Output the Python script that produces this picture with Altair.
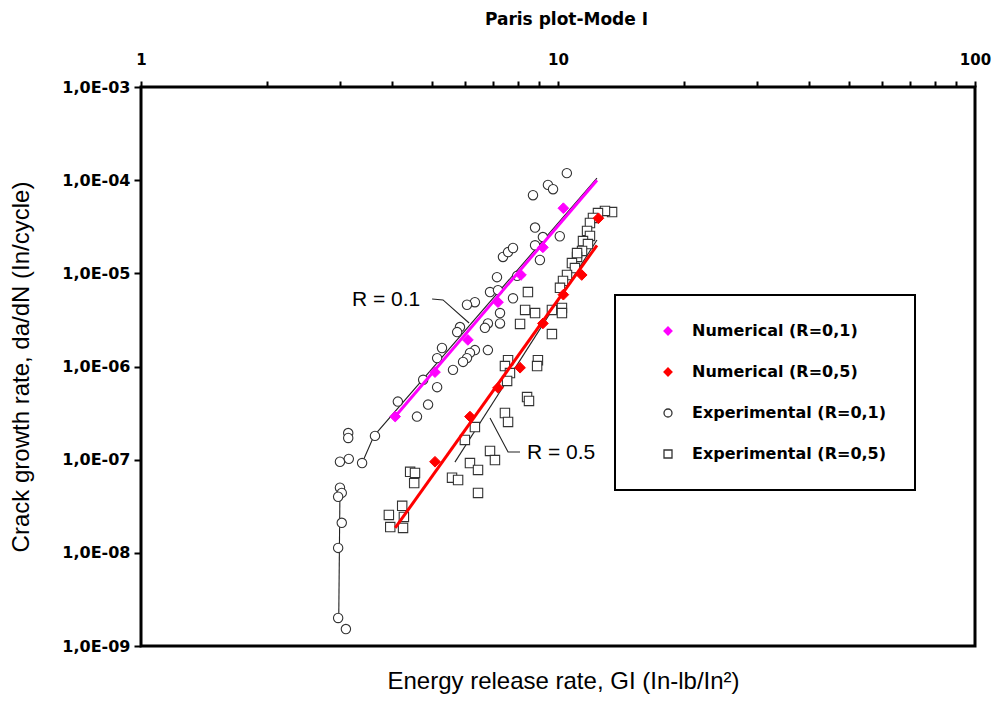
import altair as alt
import pandas as pd

# ---------------- data ----------------
SERIES = ["Numerical (R=0,1)", "Numerical (R=0,5)",
          "Experimental (R=0,1)", "Experimental (R=0,5)"]

# numerical results (energy release rate G, crack growth rate da/dN)
num01_g = [4.07, 5.07, 6.08, 7.18, 8.15, 9.2, 10.3]
num01_r = [2.9e-7, 8.7e-7, 1.93e-6, 4.9e-6, 9.6e-6, 1.9e-5, 5.0e-5]
num05_g = [5.07, 6.15, 7.18, 8.11, 9.2, 10.3, 11.4, 12.5]
num05_r = [9.5e-8, 2.9e-7, 5.9e-7, 9.7e-7, 2.9e-6, 5.9e-6, 9.6e-6, 3.9e-5]

# experimental points R = 0.1 (circles)
exp01_g = [10.5, 9.46, 9.73, 8.71, 8.81, 10.1, 9.2, 8.81, 7.38, 7.59,
           7.8, 9.05, 7.14, 7.98, 6.87, 7.18, 7.8, 6.32, 6.05, 7.26,
           6.79, 7.26, 5.82, 5.73, 6.68, 5.27, 5.13, 6.32, 6.15, 6.05,
           5.92, 6.79, 5.6, 4.75, 5.13, 4.13, 4.88, 4.59, 3.14, 3.14,
           3.64, 3.0, 3.15, 3.39, 3.0, 3.03, 2.97, 3.03, 2.97, 2.97, 3.1]
exp01_r = [1.19e-4, 8.9e-5, 8.0e-5, 6.9e-5, 3.1e-5, 2.5e-5, 2.45e-5, 2.0e-5, 1.5e-5, 1.69e-5,
           1.87e-5, 1.39e-5, 9.1e-6, 9.4e-6, 6.3e-6, 6.6e-6, 5.4e-6, 4.9e-6, 4.6e-6, 3.75e-6,
           2.9e-6, 2.9e-6, 2.65e-6, 2.34e-6, 2.6e-6, 1.58e-6, 1.23e-6, 1.5e-6, 1.4e-6, 1.23e-6,
           1.12e-6, 1.5e-6, 9.2e-7, 7.2e-7, 6.0e-7, 4.2e-7, 3.9e-7, 2.9e-7, 1.93e-7, 1.71e-7,
           1.8e-7, 9.5e-8, 1.02e-7, 9.2e-8, 5.0e-8, 4.4e-8, 4.0e-8, 2.1e-8, 1.13e-8, 2.0e-9, 1.52e-9]

# experimental points R = 0.5 (squares)
exp05_g = [13.48, 12.96, 12.47, 12.13, 11.93, 11.74, 11.93, 11.48, 11.8, 11.42,
           11.11, 10.8, 10.98, 10.51, 10.28, 10.11, 11.11, 8.47, 8.34, 8.81,
           9.67, 10.22, 10.22, 8.11, 9.67, 7.59, 7.46, 7.67, 7.55, 8.95,
           8.91, 8.43, 8.52, 7.46, 7.59, 6.32, 5.98, 6.87, 7.06, 6.15,
           6.43, 5.57, 5.76, 6.43, 4.42, 4.54, 4.52, 4.23, 3.93, 4.27, 3.96, 4.25]
exp05_r = [4.55e-5, 4.67e-5, 4.44e-5, 3.93e-5, 3.47e-5, 2.85e-5, 2.52e-5, 2.22e-5, 2.06e-5, 1.74e-5,
           1.5e-5, 1.29e-5, 1.14e-5, 9.6e-6, 8.3e-6, 7.0e-6, 1.65e-5, 6.3e-6, 4.05e-6, 3.75e-6,
           4.05e-6, 4.25e-6, 3.75e-6, 2.86e-6, 2.23e-6, 1.17e-6, 1.01e-6, 8.5e-7, 7.0e-7, 1.17e-6,
           1.01e-6, 4.7e-7, 4.27e-7, 3.17e-7, 2.54e-7, 2.24e-7, 1.63e-7, 1.24e-7, 9.9e-8, 9.2e-8,
           7.75e-8, 6.4e-8, 6.05e-8, 4.4e-8, 7.4e-8, 7.2e-8, 5.6e-8, 3.2e-8, 2.55e-8, 2.43e-8,
           1.89e-8, 1.85e-8]

# fitted numerical lines
fit01_g = [4.07, 12.4]
fit01_r = [2.9e-7, 1.0e-4]
fit05_g = [4.07, 12.4]
fit05_r = [1.85e-8, 2.0e-5]

# thin black experimental curves
blkA_g = [3.0, 2.98]
blkA_r = [4.7e-8, 2.0e-9]
blkB_g = [3.39, 3.62, 12.4]
blkB_r = [9.2e-8, 1.8e-7, 1.05e-4]
blkC_g = [5.66, 12.4]
blkC_r = [9.4e-8, 2.28e-5]

# annotation leaders and texts
lead01_g = [4.99, 5.30, 6.12]
lead01_r = [5.3e-6, 5.18e-6, 2.93e-6]
lead05_g = [8.11, 7.59, 6.87]
lead05_r = [1.21e-7, 1.21e-7, 2.8e-7]
ann_text = ["R = 0.1", "R = 0.5"]
ann_g = [3.87, 10.17]
ann_r = [5.18e-6, 1.18e-7]

X_TICKS = [1, 2, 3, 4, 5, 6, 7, 8, 9, 10, 20, 30, 40, 50, 60, 70, 80, 90, 100]
Y_TICKS = [1e-9, 1e-8, 1e-7, 1e-6, 1e-5, 1e-4, 1e-3]

# ---------------- tables ----------------
def lines(parts):
    rows = []
    for name, gs, rs in parts:
        for i, (g, r) in enumerate(zip(gs, rs)):
            rows.append({"g": g, "r": r, "seg": name, "i": i})
    return pd.DataFrame(rows)

black_df = lines([("A", blkA_g, blkA_r), ("B", blkB_g, blkB_r), ("C", blkC_g, blkC_r)])
lead_df = lines([("L1", lead01_g, lead01_r), ("L5", lead05_g, lead05_r)])
fit_df = lines([("F1", fit01_g, fit01_r), ("F5", fit05_g, fit05_r)])

exp_df = pd.concat([
    pd.DataFrame({"g": exp01_g, "r": exp01_r, "series": SERIES[2]}),
    pd.DataFrame({"g": exp05_g, "r": exp05_r, "series": SERIES[3]}),
])
num_df = pd.concat([
    pd.DataFrame({"g": num01_g, "r": num01_r, "series": SERIES[0]}),
    pd.DataFrame({"g": num05_g, "r": num05_r, "series": SERIES[1]}),
])
ann_df = pd.DataFrame({"g": ann_g, "r": ann_r, "t": ann_text})

# ---------------- scales / axes ----------------
XS = alt.Scale(type="log", domain=[1, 100], nice=False)
YS = alt.Scale(type="log", domain=[1e-9, 1e-3], nice=False)

TICKFONT = "DejaVu Sans"
top_axis = alt.Axis(
    orient="top", values=X_TICKS,
    labelExpr="(datum.value == 1 || datum.value == 10 || datum.value == 100) ? format(datum.value, 'd') : ''",
    labelFlush=False, labelOverlap=False, domain=False, grid=False,
    ticks=True, tickSize=6, tickWidth=2, tickColor="black",
    labelFont=TICKFONT, labelFontWeight="bold", labelFontSize=15, labelColor="black",
    labelPadding=14,
    title="Paris plot-Mode I", titleFont=TICKFONT, titleFontWeight="bold",
    titleFontSize=17, titleColor="black", titlePadding=24, titleX=425,
)
bottom_axis = alt.Axis(
    orient="bottom", labels=False, ticks=False, domain=False, grid=False,
    title="Energy release rate, GI (In-lb/In\u00b2)", titleFont="Liberation Sans",
    titleFontWeight="normal", titleFontSize=24, titleColor="black", titlePadding=23,
    titleX=422,
)
left_axis = alt.Axis(
    orient="left", values=Y_TICKS,
    labelExpr="'1,0E-0' + format(-round(log(datum.value) / LN10), 'd')",
    labelFlush=False, labelOverlap=False, domain=False, grid=False,
    ticks=True, tickSize=7, tickWidth=2, tickColor="black",
    labelFont=TICKFONT, labelFontWeight="bold", labelFontSize=16, labelColor="black",
    labelPadding=4,
    title="Crack growth rate, da/dN (In/cycle)", titleFont="Liberation Sans",
    titleFontWeight="normal", titleFontSize=24, titleColor="black", titlePadding=28,
)

legend = alt.Legend(
    orient="none", legendX=474, legendY=208, title=None,
    padding=28, rowPadding=25, symbolOffset=17, labelOffset=16,
    strokeColor="black", fillColor="white",
    labelFont=TICKFONT, labelFontWeight="bold", labelFontSize=16,
    labelColor="black", labelLimit=400, symbolSize=64, symbolStrokeWidth=1.3,
)

fill_enc = alt.Fill("series:N", scale=alt.Scale(domain=SERIES,
                    range=["#ff00ff", "#ff0000", "#ffffff", "#ffffff"]), legend=legend)
stroke_enc = alt.Stroke("series:N", scale=alt.Scale(domain=SERIES,
                        range=["#ff00ff", "#ff0000", "#333333", "#333333"]), legend=legend)
shape_enc = alt.Shape("series:N", scale=alt.Scale(domain=SERIES,
                      range=["diamond", "diamond", "circle", "square"]), legend=legend)

Y = alt.Y("r:Q", scale=YS, axis=left_axis)

# ---------------- layers ----------------
black = alt.Chart(black_df).mark_line(color="#222222", strokeWidth=1.1).encode(
    x=alt.X("g:Q", scale=XS, axis=top_axis),
    y=Y, detail="seg:N", order="i:Q",
)
leaders = alt.Chart(lead_df).mark_line(color="#222222", strokeWidth=1.1).encode(
    x=alt.X("g:Q", scale=XS, axis=bottom_axis),
    y=Y, detail="seg:N", order="i:Q",
)
exp_pts = alt.Chart(exp_df).mark_point(filled=True, opacity=1, size=88, strokeWidth=1.1).encode(
    x=alt.X("g:Q", scale=XS, axis=None),
    y=Y, fill=fill_enc, stroke=stroke_enc, shape=shape_enc,
)
fits = alt.Chart(fit_df).mark_line(strokeWidth=3).encode(
    x=alt.X("g:Q", scale=XS, axis=None),
    y=Y,
    color=alt.Color("seg:N", scale=alt.Scale(domain=["F1", "F5"], range=["#ff00ff", "#ff0000"]),
                    legend=None),
    detail="seg:N", order="i:Q",
)
num_pts = alt.Chart(num_df).mark_point(filled=True, opacity=1, size=115, strokeWidth=1).encode(
    x=alt.X("g:Q", scale=XS, axis=None),
    y=Y, fill=fill_enc, stroke=stroke_enc, shape=shape_enc,
)
ann = alt.Chart(ann_df).mark_text(font="Liberation Sans", fontSize=21, color="black",
                                  align="center", baseline="middle").encode(
    x=alt.X("g:Q", scale=XS, axis=None),
    y=Y, text="t:N",
)

chart = alt.layer(black, leaders, exp_pts, fits, num_pts, ann).resolve_axis(
    x="independent", y="shared"
).properties(
    width=834, height=559,
    padding={"left": 133, "top": 79, "right": 17, "bottom": 48},
    autosize=alt.AutoSizeParams(type="none"),
    background="white",
).configure_view(
    stroke="black", strokeWidth=3
).configure_legend(
    strokeWidth=2
)

chart.save("out.html", embed_options={"renderer": "svg", "actions": False})
